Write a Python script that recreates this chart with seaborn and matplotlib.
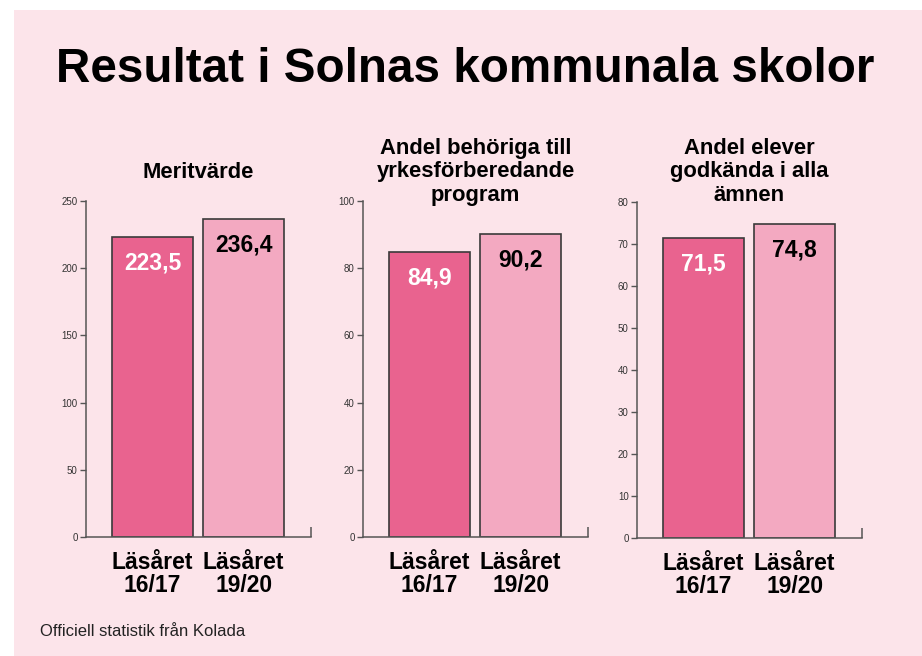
import matplotlib
matplotlib.use('Agg')
import numpy as np
import pandas as pd
import matplotlib.pyplot as plt
import seaborn as sns
from matplotlib.patches import Rectangle

# data
years = ["Läsåret\n16/17", "Läsåret\n19/20"]
meritvarde = [223.5, 236.4]
behoriga = [84.9, 90.2]
godkanda = [71.5, 74.8]

panel_titles = ["Meritvärde",
                "Andel behöriga till\nyrkesförberedande\nprogram",
                "Andel elever\ngodkända i alla\nämnen"]
panel_values = [meritvarde, behoriga, godkanda]
panel_ymax = [250, 100, 80]
panel_step = [50, 20, 10]

BG = "#fce4ea"
BAR_COLORS = ["#e9638f", "#f3a9c1"]
EDGE = "#3a3a3a"

sns.set_style("white")
plt.rcParams['font.family'] = ['Liberation Sans', 'DejaVu Sans']

fig = plt.figure(figsize=(9.22, 6.56), dpi=100)
fig.patch.set_facecolor("white")
fig.patches.append(Rectangle((14 / 922, 0), 1, 1 - 10 / 656,
                             transform=fig.transFigure, facecolor=BG,
                             edgecolor="none", zorder=-10))

fig.text(0.504, 1 - 70 / 656, "Resultat i Solnas kommunala skolor",
         ha="center", va="center", fontsize=34.3, fontweight="bold", color="black")

lefts = [86, 363, 637]
tops = [201, 201, 202]
bottoms = [537, 537, 538]
width_px = 225

for i in range(3):
    l, t, b = lefts[i], tops[i], bottoms[i]
    ax = fig.add_axes([l / 922, 1 - b / 656, width_px / 922, (b - t) / 656])
    ax.set_facecolor("none")
    df = pd.DataFrame({"year": years, "value": panel_values[i]})
    sns.barplot(data=df, x="year", y="value", hue="year", palette=BAR_COLORS,
                legend=False, width=0.89, edgecolor=EDGE, linewidth=1.2,
                saturation=1, ax=ax)
    ax.set_xlim(-0.73, 1.74)
    ax.set_ylim(0, panel_ymax[i])
    ax.set_yticks(np.arange(0, panel_ymax[i] + 1, panel_step[i]))
    ax.set_xlabel("")
    ax.set_ylabel("")
    for s in ["top", "right"]:
        ax.spines[s].set_visible(False)
    for s in ["left", "bottom"]:
        ax.spines[s].set_color("#555555")
        ax.spines[s].set_linewidth(1.1)
    ax.tick_params(axis="y", length=4, width=1, color="#555555",
                   labelsize=7, labelcolor="#333333", pad=2, left=True)
    ax.tick_params(axis="x", length=0, pad=10)
    for lab in ax.get_xticklabels():
        lab.set_fontsize(16.5)
        lab.set_fontweight("bold")
        lab.set_color("black")
        lab.set_linespacing(0.98)
    # small end mark on x axis
    ax.set_xticks([1.74], minor=True)
    ax.tick_params(axis="x", which="minor", direction="in", length=7,
                   width=1.1, color="#555555", bottom=True)

    for j, v in enumerate(panel_values[i]):
        txt = f"{v:.1f}".replace(".", ",")
        ax.annotate(txt, (j, v), xytext=(0, -26), textcoords="offset pixels",
                    ha="center", va="center", fontsize=16.5, fontweight="bold",
                    color="white" if j == 0 else "black")

    fig.text((l + width_px / 2) / 922, 1 - 172 / 656, panel_titles[i],
             ha="center", va="center", fontsize=15.8, fontweight="bold",
             color="black", linespacing=1.13)

fig.text(40 / 922, 1 - 632 / 656, "Officiell statistik från Kolada",
         ha="left", va="center", fontsize=12, color="#222222")

fig.savefig("out.png", dpi=100, facecolor=fig.get_facecolor())
